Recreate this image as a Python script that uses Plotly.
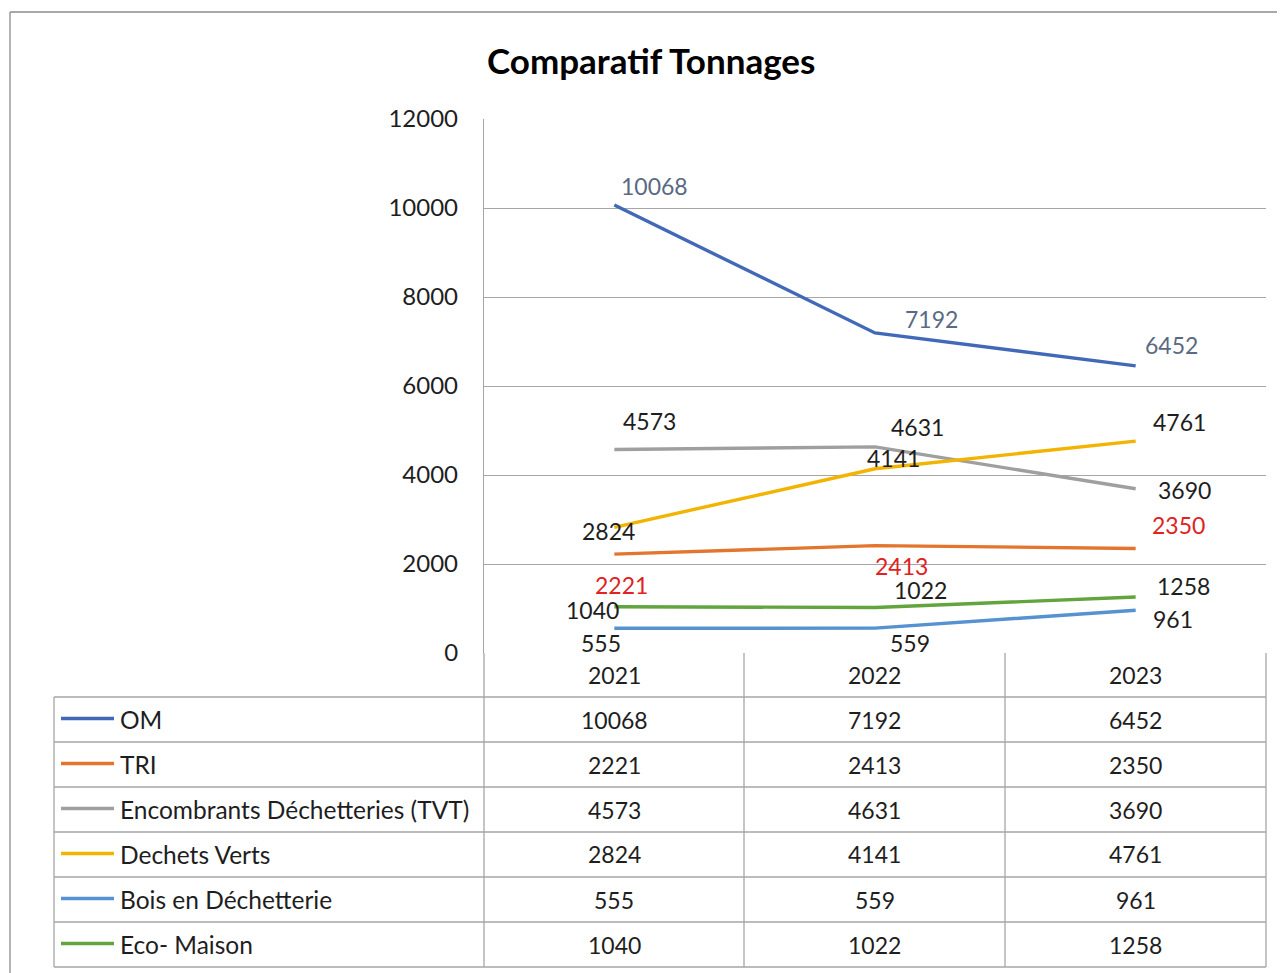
import plotly.graph_objects as go

# ---------------- data ----------------
years = ["2021", "2022", "2023"]
series_names = ["OM", "TRI", "Encombrants Déchetteries (TVT)", "Dechets Verts",
                "Bois en Déchetterie", "Eco- Maison"]
om = [10068, 7192, 6452]
tri = [2221, 2413, 2350]
encombrants = [4573, 4631, 3690]
dechets_verts = [2824, 4141, 4761]
bois = [555, 559, 961]
eco_maison = [1040, 1022, 1258]
y_ticks = [0, 2000, 4000, 6000, 8000, 10000, 12000]
title_text = "Comparatif Tonnages"

series_values = [om, tri, encombrants, dechets_verts, bois, eco_maison]

# ---------------- styles ----------------
colors = ["#4169b8", "#e3752f", "#9f9f9f", "#f2b400", "#5592cf", "#62a43d"]
label_colors = ["#5a6a84", "#e02222", "#1e1e1e", "#1e1e1e", "#1e1e1e", "#1e1e1e"]
# manual label offsets (pixels) as in the Excel chart
label_offsets = [
    [(40, 19), (56, 14), (36, 21)],
    [(7, -31), (26, -20), (43, 23)],
    [(35, 29), (42, 20), (49, -1)],
    [(-6, -4), (18, 11), (44, 19)],
    [(-13, -15), (35, -15), (37, -9)],
    [(-22, -3), (45, 18), (48, 11)],
]
FONT = "Lato, 'Open Sans', sans-serif"
OFF = 8  # page body margin
W, H = 1285 - OFF, 973 - OFF
PL, PR, PT, PB = 484, 1266, 119, 653  # plot area in reference pixels
GRID = "#a6a6a6"
TXT = "#1e1e1e"


def px(x):
    return (x - PL) / (PR - PL)


def py(y):
    return (PB - y) / (PB - PT)


fig = go.Figure()
for name, vals, col in zip(series_names, series_values, colors):
    fig.add_trace(go.Scatter(x=years, y=vals, mode="lines", name=name,
                             line=dict(color=col, width=3.4), showlegend=False,
                             hoverinfo="x+y+name"))

annotations = []
# data labels
for vals, lc, offs in zip(series_values, label_colors, label_offsets):
    for i, (v, (dx, dy)) in enumerate(zip(vals, offs)):
        annotations.append(dict(x=i, y=v, xref="x", yref="y", text=str(v),
                                showarrow=False, xshift=dx, yshift=dy,
                                font=dict(family=FONT, size=23, color=lc)))

shapes = []
line_style = dict(color=GRID, width=1.3)
# chart frame
shapes.append(dict(type="line", xref="paper", yref="paper", x0=px(10), x1=px(1300),
                   y0=py(12), y1=py(12), line=dict(color="#8c8c8c", width=1.3)))
shapes.append(dict(type="line", xref="paper", yref="paper", x0=px(10), x1=px(10),
                   y0=py(12), y1=py(990), line=dict(color="#8c8c8c", width=1.3)))

# data table geometry
col_edges = [PL, 744, 1005, PR]
header_top, header_bot = PB, 697
row_h = 45
row_tops = [header_bot + i * row_h for i in range(len(series_names) + 1)]
table_left = 54

for yline in row_tops:
    shapes.append(dict(type="line", xref="paper", yref="paper", x0=px(table_left), x1=px(PR),
                       y0=py(yline), y1=py(yline), line=line_style))
shapes.append(dict(type="line", xref="paper", yref="paper", x0=px(table_left), x1=px(table_left),
                   y0=py(header_bot), y1=py(row_tops[-1]), line=line_style))
for xe in col_edges:
    shapes.append(dict(type="line", xref="paper", yref="paper", x0=px(xe), x1=px(xe),
                       y0=py(header_top), y1=py(row_tops[-1]), line=line_style))

# header (years)
for i, yr in enumerate(years):
    cx = (col_edges[i] + col_edges[i + 1]) / 2
    annotations.append(dict(x=px(cx), y=py((header_top + header_bot) / 2), xref="paper", yref="paper",
                            text=yr, showarrow=False, xanchor="center", yanchor="middle",
                            font=dict(family=FONT, size=23, color=TXT)))
# rows
for r, (name, vals, col) in enumerate(zip(series_names, series_values, colors)):
    cy = row_tops[r] + row_h / 2
    shapes.append(dict(type="line", xref="paper", yref="paper", x0=px(61), x1=px(114),
                       y0=py(cy - 1), y1=py(cy - 1), line=dict(color=col, width=3.5)))
    annotations.append(dict(x=px(118), y=py(cy), xref="paper", yref="paper", text=name,
                            showarrow=False, xanchor="left", yanchor="middle",
                            font=dict(family=FONT, size=24.5, color=TXT)))
    for i, v in enumerate(vals):
        cx = (col_edges[i] + col_edges[i + 1]) / 2
        annotations.append(dict(x=px(cx), y=py(cy), xref="paper", yref="paper", text=str(v),
                                showarrow=False, xanchor="center", yanchor="middle",
                                font=dict(family=FONT, size=23, color=TXT)))

# title
annotations.append(dict(x=px(651), y=py(60), xref="paper", yref="paper", text="<b>" + title_text + "</b>",
                        showarrow=False, xanchor="center", yanchor="middle",
                        font=dict(family=FONT, size=35, color="#000000")))

fig.update_layout(
    width=W, height=H, autosize=False,
    margin=dict(l=PL - OFF, r=W - (PR - OFF), t=PT - OFF, b=H - (PB - OFF), pad=0),
    paper_bgcolor="white", plot_bgcolor="white",
    xaxis=dict(type="category", range=[-0.5, 2.5], showticklabels=False, showgrid=False,
               zeroline=False, showline=False, ticks=""),
    yaxis=dict(range=[0, 12000], tickvals=y_ticks, ticktext=[str(t) for t in y_ticks],
               showgrid=True, gridcolor=GRID, gridwidth=1.3, zeroline=False,
               showline=True, linecolor=GRID, linewidth=1.3, ticks="",
               ticklabelstandoff=20,
               tickfont=dict(family=FONT, size=24, color=TXT)),
    shapes=shapes, annotations=annotations, showlegend=False,
)

fig.write_html("out.html")
